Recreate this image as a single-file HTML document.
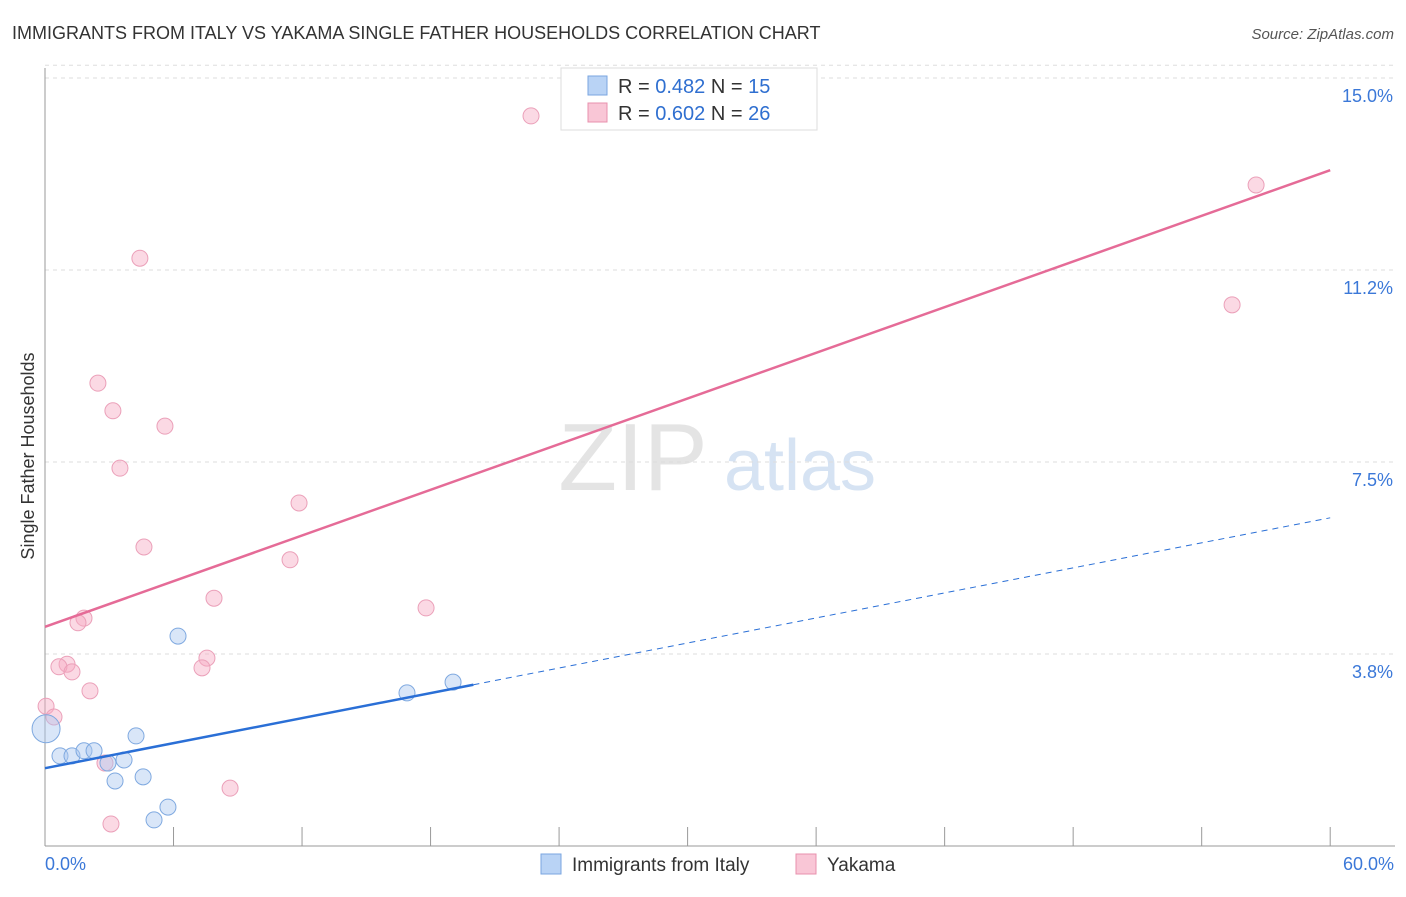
<!DOCTYPE html>
<html><head><meta charset="utf-8"><style>
body{margin:0;background:#fff;font-family:"Liberation Sans",sans-serif;}
svg text{font-family:"Liberation Sans",sans-serif;}
</style></head><body>
<svg id="chart" width="1406" height="892" xmlns="http://www.w3.org/2000/svg">
<text x="12" y="39" font-size="18" fill="#333">IMMIGRANTS FROM ITALY VS YAKAMA SINGLE FATHER HOUSEHOLDS CORRELATION CHART</text>
<text x="1394" y="39" font-size="15" fill="#555" text-anchor="end" font-style="italic">Source: ZipAtlas.com</text>
<text x="633" y="490" font-size="96" fill="#e4e4e4" font-family="Liberation Serif" text-anchor="middle">ZIP</text>
<text x="800" y="490" font-size="72" fill="#d6e3f3" text-anchor="middle">atlas</text>
<text transform="translate(34,456) rotate(-90)" font-size="18" fill="#333" text-anchor="middle">Single Father Households</text>
<g id="grid"></g><g id="marks"></g>
<g>
<rect x="561" y="68" width="256" height="62" fill="#fff" stroke="#ddd"/>
<rect x="588" y="76" width="19" height="19" fill="#b9d3f5" stroke="#7aa6e0"/>
<text x="618" y="93" font-size="20" fill="#333">R = <tspan fill="#2f6fd0">0.482</tspan>   N = <tspan fill="#2f6fd0">15</tspan></text>
<rect x="588" y="103" width="19" height="19" fill="#f9c6d6" stroke="#e890ad"/>
<text x="618" y="120" font-size="20" fill="#333">R = <tspan fill="#2f6fd0">0.602</tspan>   N = <tspan fill="#2f6fd0">26</tspan></text>
</g>
<g>
<rect x="541" y="854" width="20" height="20" fill="#b9d3f5" stroke="#7aa6e0"/>
<text x="572" y="871" font-size="19" fill="#333">Immigrants from Italy</text>
<rect x="796" y="854" width="20" height="20" fill="#f9c6d6" stroke="#e890ad"/>
<text x="827" y="871" font-size="19" fill="#333">Yakama</text>
</g>
</svg>
<script>
const yTicks=[3.75,7.5,11.25,15];
const yTickLabels=["3.8%","7.5%","11.2%","15.0%"];
const xTickVals=[0,6,12,18,24,30,36,42,48,54,60];
const pinkX=[22.69,56.54,4.43,55.42,2.47,3.17,5.60,3.50,11.86,4.62,11.44,7.89,17.79,1.82,1.54,1.03,0.65,1.26,7.56,7.33,2.10,0.05,0.42,2.80,8.64,3.08];
const pinkY=[14.26,12.91,11.48,10.57,9.04,8.50,8.20,7.38,6.70,5.84,5.59,4.84,4.65,4.45,4.36,3.55,3.50,3.40,3.67,3.48,3.03,2.73,2.52,1.62,1.13,0.43];
const blueX=[0.05,0.70,1.26,1.82,2.29,4.25,3.69,2.94,3.27,4.58,5.74,5.09,6.21,16.90,19.05];
const blueY=[2.29,1.76,1.76,1.86,1.86,2.15,1.68,1.62,1.27,1.35,0.76,0.51,4.10,2.99,3.20];
const blueSize=[14,8,8,8,8,8,8,8,8,8,8,8,8,8,8];
const pinkTrend=[4.28,13.20];
const blueTrend=[1.52,6.41];
const blueSolidEnd=20;
const X=v=>45+v*21.42, Y=v=>846-v*51.2;
const NS="http://www.w3.org/2000/svg";
function mk(t,a,p){const e=document.createElementNS(NS,t);for(const k in a)e.setAttribute(k,a[k]);p.appendChild(e);return e;}
const g=document.getElementById('grid'), m=document.getElementById('marks');
yTicks.forEach((v,i)=>{
 const l=mk('line',{x1:45,x2:1395,y1:Y(v),y2:Y(v),stroke:'#ddd','stroke-dasharray':'4,4'},g);
 
 
 const t=mk('text',{x:1393,y:Y(v)+24,'font-size':18,fill:'#3b78d8','text-anchor':'end'},g);t.textContent=yTickLabels[i];
 
 
});
const gl=mk('line',{x1:45,x2:1395,y1:Y(15.25),y2:Y(15.25),stroke:'#ddd','stroke-dasharray':'4,4'},g);


mk('line',{x1:45,x2:45,y1:68,y2:846,stroke:'#999'},g);
mk('line',{x1:45,x2:1395,y1:846,y2:846,stroke:'#999'},g);
xTickVals.forEach(v=>{const l=mk('line',{x1:X(v),x2:X(v),y1:827,y2:846,stroke:'#999'},g);
 
 });
[[0,"0.0%","start",45],[60,"60.0%","end",1394]].forEach(a=>{const t=mk('text',{x:a[3],y:870,'font-size':18,fill:'#3b78d8','text-anchor':a[2]},g);t.textContent=a[1];
 
 });
pinkX.forEach((x,i)=>{const c=mk('circle',{cx:X(x),cy:Y(pinkY[i]),r:8,fill:'rgba(246,170,196,0.45)',stroke:'#eba0b9','stroke-width':1},m);
 
 });
blueX.forEach((x,i)=>{const c=mk('circle',{cx:X(x),cy:Y(blueY[i]),r:blueSize[i],fill:'rgba(170,200,240,0.45)',stroke:'#7fa9e0','stroke-width':1},m);
 
 });
const pl=mk('line',{x1:X(0),y1:Y(pinkTrend[0]),x2:X(60),y2:Y(pinkTrend[1]),stroke:'#e56b97','stroke-width':2.5},m);


const bAt=v=>blueTrend[0]+(blueTrend[1]-blueTrend[0])*v/60;
const bl=mk('line',{x1:X(0),y1:Y(bAt(0)),x2:X(blueSolidEnd),y2:Y(bAt(blueSolidEnd)),stroke:'#2a6fd6','stroke-width':2.5},m);


const bd=mk('line',{x1:X(blueSolidEnd),y1:Y(bAt(blueSolidEnd)),x2:X(60),y2:Y(bAt(60)),stroke:'#2a6fd6','stroke-width':1,'stroke-dasharray':'6,5'},m);


</script>
</body></html>
